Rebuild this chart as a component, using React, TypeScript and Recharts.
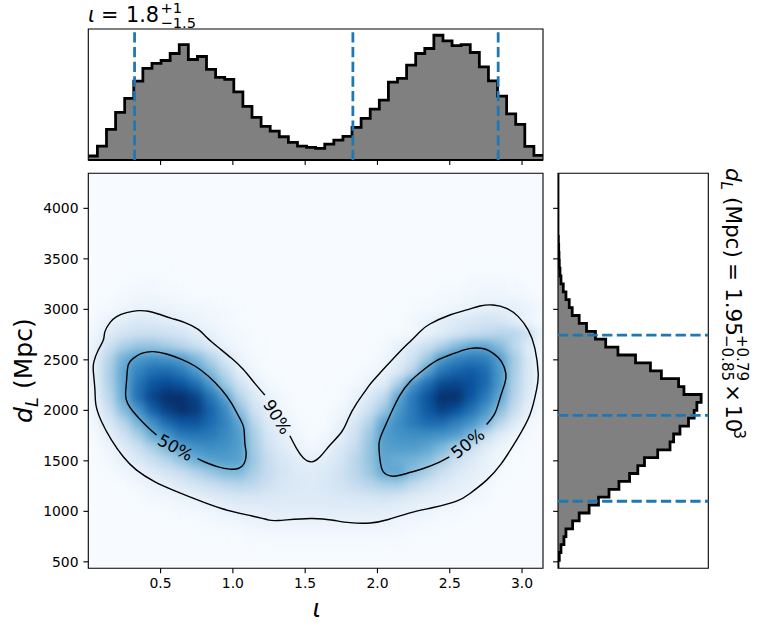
import React from 'react';
import { ComposedChart, Area, Line, Scatter, XAxis, YAxis, ReferenceLine, ReferenceArea, ReferenceDot } from 'recharts';

// ---- data ----
const iotaTicks = [0.5, 1.0, 1.5, 2.0, 2.5, 3.0];
const distanceTicks = [500, 1000, 1500, 2000, 2500, 3000, 3500, 4000];
const iotaDomain: [number, number] = [0, 3.145];
const distanceDomain: [number, number] = [436, 4347];

const iotaCounts = [4, 14, 30.7, 47.7, 61.7, 79, 91.7, 96.7, 99.7, 106.7, 115.7, 100.7, 103.7, 90.7, 82.7, 80.7, 68.3, 53.7, 42.7, 33.7, 29, 23.3, 17.7, 14, 12.7, 11.7, 16, 20, 23.7, 32.7, 41.7, 51, 60, 78, 81.7, 95, 106.7, 111.7, 125, 119.3, 114.7, 115.7, 107.7, 93.3, 79.3, 64, 46.3, 35.7, 13.7, 4.7];
const distanceCounts = [0, 1.3, 3, 6, 8, 14.7, 21.3, 31.3, 40.7, 51.3, 61.3, 72, 80.3, 87, 100.3, 112.7, 116.3, 122.7, 131.3, 137, 139.7, 144, 126.7, 121.3, 104, 93, 78, 60.3, 48, 37.7, 28.7, 21.3, 14.3, 11.3, 8, 5.3, 3, 2, 1.3, 1, 0.7, 0.4, 0, 0, 0, 0, 0, 0, 0, 0];
const iotaQuantiles = [0.32, 1.83, 2.835];
const distanceQuantiles = [2745, 1950, 1100];

const heatIota = [0.05, 0.15, 0.25, 0.35, 0.45, 0.55, 0.65, 0.75, 0.85, 0.95, 1.05, 1.15, 1.25, 1.35, 1.45, 1.55, 1.65, 1.75, 1.85, 1.95, 2.05, 2.15, 2.25, 2.35, 2.45, 2.55, 2.65, 2.75, 2.85, 2.95, 3.05, 3.15];
const heatDistance = [3375, 3250, 3125, 3000, 2875, 2750, 2625, 2500, 2375, 2250, 2125, 2000, 1875, 1750, 1625, 1500, 1375, 1250, 1125, 1000, 875, 750, 625];
const heatGrid = [
  [0,0,0,1,1,1,0,0,0,0,0,0,0,0,0,0,0,0,0,0,0,0,0,0,0,0,1,1,1,0,0,0],
  [0,0,1,2,2,1,1,0,0,0,0,0,0,0,0,0,0,0,0,0,0,0,0,0,1,1,2,3,3,2,1,0],
  [0,1,3,4,4,3,2,1,1,0,0,0,0,0,0,0,0,0,0,0,0,0,1,1,2,3,4,5,5,4,2,1],
  [1,2,4,6,7,6,5,4,3,2,1,0,0,0,0,0,0,0,0,0,0,0,1,2,3,5,7,9,10,9,7,3],
  [2,7,11,14,13,11,9,6,4,2,1,0,0,0,0,0,0,0,0,0,0,1,3,7,10,13,16,18,17,11,5,2],
  [5,12,18,22,23,20,17,12,8,4,2,1,0,0,0,0,0,0,0,0,1,1,3,8,12,17,22,26,30,29,20,8],
  [8,22,33,40,40,36,30,23,14,7,3,1,0,0,0,0,0,0,0,0,2,8,14,22,32,44,53,54,44,28,12,4],
  [10,30,50,60,64,62,58,46,32,16,6,2,0,0,0,0,0,0,0,1,4,10,20,38,60,68,72,70,58,36,14,4],
  [10,33,54,68,76,78,72,60,44,28,11,4,1,0,0,0,0,0,1,3,6,14,30,57,74,80,84,78,60,34,14,5],
  [9,32,53,74,86,90,86,76,60,38,20,9,3,0,0,0,0,1,2,7,12,34,62,76,90,92,88,78,60,32,14,5],
  [8,28,52,76,92,102,106,92,74,56,30,14,7,2,0,0,0,1,6,14,26,54,72,86,106,102,86,72,54,30,12,4],
  [6,22,44,62,82,94,100,96,80,66,42,20,10,4,1,0,1,3,10,20,38,60,72,84,94,88,76,62,44,24,9,3],
  [4,14,30,48,64,78,86,86,78,68,54,28,13,7,2,0,1,7,16,30,54,64,72,78,78,70,62,50,30,14,4,1],
  [2,9,20,34,52,62,72,74,72,66,58,34,16,9,4,1,3,10,20,38,58,62,64,64,62,58,46,26,12,6,2,0],
  [1,5,12,22,34,46,56,62,64,62,58,36,20,12,7,3,7,14,24,40,56,58,58,54,46,34,22,12,6,2,0,0],
  [0,3,8,14,22,30,40,50,56,58,56,38,24,16,11,9,11,17,28,40,54,50,48,44,34,22,14,8,3,1,0,0],
  [0,1,4,7,12,17,23,30,38,44,44,34,24,17,13,12,14,20,28,38,52,54,42,32,22,14,10,7,2,0,0,0],
  [0,0,1,3,6,9,13,17,22,26,29,27,21,16,14,13,15,19,24,29,33,34,26,18,13,10,8,4,1,0,0,0],
  [0,0,0,1,3,4,6,8,11,14,15,15,14,13,13,13,13,14,15,16,17,15,12,10,8,7,4,2,0,0,0,0],
  [0,0,0,0,0,1,2,3,5,7,9,10,11,11,11,11,11,11,11,11,10,9,8,6,4,3,1,0,0,0,0,0],
  [0,0,0,0,0,0,0,1,2,3,4,5,6,6,6,6,6,6,6,6,6,4,3,2,1,0,0,0,0,0,0,0],
  [0,0,0,0,0,0,0,0,0,0,1,2,2,2,2,2,2,2,2,2,2,2,1,0,0,0,0,0,0,0,0,0],
  [0,0,0,0,0,0,0,0,0,0,0,0,1,1,1,1,1,1,1,1,0,0,0,0,0,0,0,0,0,0,0,0],
];

const contourLeft50 = [[0.472,1755],[0.392,1860],[0.311,1986],[0.272,2069],[0.258,2151],[0.265,2300],[0.276,2449],[0.311,2515],[0.369,2564],[0.449,2581],[0.541,2558],[0.645,2505],[0.737,2439],[0.829,2340],[0.921,2207],[0.991,2069],[1.048,1920],[1.076,1821],[1.083,1672],[1.092,1573],[1.078,1474],[1.037,1424],[0.979,1418],[0.898,1441],[0.818,1481],[0.756,1523]];
const contourRight50 = [[2.755,1860],[2.812,1970],[2.847,2118],[2.881,2267],[2.888,2366],[2.858,2482],[2.801,2564],[2.743,2607],[2.674,2617],[2.594,2597],[2.501,2548],[2.409,2492],[2.317,2399],[2.225,2283],[2.156,2151],[2.098,1986],[2.041,1804],[2.011,1672],[2.018,1507],[2.041,1391],[2.11,1348],[2.202,1375],[2.317,1424],[2.409,1474],[2.497,1540]];
const contourOuter90 = [[1.221,2151],[1.152,2267],[1.071,2406],[0.991,2515],[0.898,2624],[0.818,2723],[0.76,2802],[0.668,2868],[0.576,2911],[0.484,2954],[0.415,2981],[0.346,2987],[0.265,2967],[0.196,2928],[0.15,2868],[0.115,2779],[0.104,2696],[0.069,2597],[0.039,2482],[0.035,2383],[0.046,2201],[0.053,2052],[0.092,1887],[0.161,1705],[0.242,1540],[0.334,1408],[0.461,1292],[0.599,1203],[0.76,1110],[0.921,1028],[1.106,962],[1.235,919],[1.314,909],[1.534,929],[1.695,912],[1.81,888],[1.95,885],[2.075,919],[2.225,985],[2.386,1038],[2.547,1101],[2.64,1177],[2.755,1309],[2.858,1474],[2.962,1705],[3.054,1953],[3.1,2201],[3.112,2366],[3.089,2614],[3.043,2795],[2.974,2928],[2.893,3010],[2.801,3043],[2.709,3033],[2.617,2994],[2.501,2944],[2.363,2855],[2.294,2779],[2.225,2680],[2.133,2548],[1.983,2316],[1.937,2234],[1.856,2069],[1.799,1920],[1.753,1788],[1.672,1656],[1.603,1540],[1.543,1490],[1.486,1530],[1.44,1623],[1.394,1748]];
const contourLabels = [
  { text: '50%', iota: 0.603, distance: 1633, angle: 29 },
  { text: '50%', iota: 2.624, distance: 1672, angle: -38 },
  { text: '90%', iota: 1.308, distance: 1936, angle: 58 },
];

// ---- layout and style ----
const W = 757, H = 631;
const L = 88.3, R = 543, T = 173.3, B = 568.3;
const topT = 29, topB = 160;
const sideL = 558, sideR = 708.3;
const FONT = '"DejaVu Sans", sans-serif';
const BLUE = '#1f77b4';
const DASH = '10.3 4.4';
const TICK = { fontSize: 13.9, fontFamily: FONT, fill: '#000' };
const AXIS = { stroke: '#000', strokeWidth: 1.1 };

const blues = ['#f7fbff', '#deebf7', '#c6dbef', '#9ecae1', '#6baed6', '#4292c6', '#2171b5', '#08519c', '#08306b'];
function blueOf(v: number) {
  const t = Math.max(0, Math.min(0.9999, v / 100)) * 8;
  const i = Math.floor(t), f = t - i;
  const a = parseInt(blues[i].slice(1), 16), b = parseInt(blues[i + 1].slice(1), 16);
  const ch = (s: number) => Math.round(((a >> s) & 255) * (1 - f) + ((b >> s) & 255) * f);
  return `rgb(${ch(16)},${ch(8)},${ch(0)})`;
}

const heatCells = heatGrid.flatMap((row, r) =>
  row.map((v, c) => ({ iota: heatIota[c], distance: heatDistance[r], v })).filter((d) => d.v > 0));
const cellW = 0.1 * (R - L) / (iotaDomain[1] - iotaDomain[0]);
const cellH = 125 * (B - T) / (distanceDomain[1] - distanceDomain[0]);

function HeatCell(props: any) {
  const { cx, cy, payload } = props;
  return <rect x={cx - cellW / 2 - 0.5} y={cy - cellH / 2 - 0.5} width={cellW + 1} height={cellH + 1} fill={blueOf(payload.v)} />;
}

const iotaHist = [
  ...iotaCounts.map((count, i) => ({ iota: (i * iotaDomain[1]) / iotaCounts.length, count })),
  { iota: iotaDomain[1], count: iotaCounts[iotaCounts.length - 1] },
];
const distanceSpan = distanceDomain[1] - distanceDomain[0];
const distanceHist = [
  ...distanceCounts.map((count, i) => ({ distance: distanceDomain[0] + (i * distanceSpan) / distanceCounts.length, count })),
  { distance: distanceDomain[1], count: 0 },
];
const asPoints = (c: number[][]) => c.map(([iota, distance]) => ({ iota, distance }));
const contours = [contourLeft50, contourRight50, contourOuter90].map(asPoints);

const layer: React.CSSProperties = { position: 'absolute', left: 0, top: 0 };
const noText = () => '';

function TopHist() {
  const domain: [number, number] = [0, 131.25];
  return (
    <div style={layer}>
      <ComposedChart width={W} height={H} data={iotaHist} margin={{ left: L, right: W - R, top: topT, bottom: H - topB - 1 }}>
        <XAxis dataKey="iota" type="number" domain={iotaDomain} ticks={iotaTicks} height={1} tickSize={4.9} tickFormatter={noText} axisLine={false} tickLine={AXIS} allowDataOverflow />
        <YAxis type="number" domain={domain} width={0} hide allowDataOverflow />
        <Area dataKey="count" type="stepAfter" stroke="#000" strokeWidth={2.78} fill="#808080" fillOpacity={1} dot={false} activeDot={false} isAnimationActive={false} />
        <ReferenceLine y={0} stroke="#000" strokeWidth={2.2} />
        {iotaQuantiles.map((q) => (
          <ReferenceLine key={q} segment={[{ x: q, y: 128 }, { x: q, y: 0 }]} stroke={BLUE} strokeWidth={2.78} strokeDasharray={DASH} />
        ))}
        <ReferenceArea x1={iotaDomain[0]} x2={iotaDomain[1]} y1={domain[0]} y2={domain[1]} fill="none" stroke="#000" strokeWidth={1.1} />
      </ComposedChart>
    </div>
  );
}

function SideHist() {
  const domain: [number, number] = [0, 151.2];
  return (
    <div style={layer}>
      <ComposedChart layout="vertical" width={W} height={H} data={distanceHist} margin={{ left: sideL - 1, right: W - sideR, top: T, bottom: H - B }}>
        <XAxis type="number" domain={domain} height={0} hide allowDataOverflow />
        <YAxis dataKey="distance" type="number" reversed domain={distanceDomain} ticks={distanceTicks} width={1} tickSize={4.9} tickFormatter={noText} axisLine={false} tickLine={AXIS} allowDataOverflow />
        <Area dataKey="count" type="stepBefore" stroke="#000" strokeWidth={2.78} fill="#808080" fillOpacity={1} dot={false} activeDot={false} isAnimationActive={false} />
        {distanceQuantiles.map((q) => (
          <ReferenceLine key={q} segment={[{ x: 0, y: q }, { x: domain[1], y: q }]} stroke={BLUE} strokeWidth={2.78} strokeDasharray={DASH} />
        ))}
        <ReferenceArea x1={domain[0]} x2={domain[1]} y1={distanceDomain[0]} y2={distanceDomain[1]} fill="none" stroke="#000" strokeWidth={1.1} />
      </ComposedChart>
    </div>
  );
}

function HeatLayer() {
  const w = R - L, h = B - T;
  return (
    <div style={{ position: 'absolute', left: L, top: T, width: w, height: h, overflow: 'hidden', background: blues[0] }}>
      <div style={{ filter: 'blur(5px)', width: w, height: h }}>
        <ComposedChart width={w} height={h} margin={{ left: 0, right: 0, top: 0, bottom: 0 }}>
          <XAxis dataKey="iota" type="number" domain={iotaDomain} hide height={0} allowDataOverflow />
          <YAxis dataKey="distance" type="number" domain={distanceDomain} hide width={0} allowDataOverflow />
          <Scatter data={heatCells} dataKey="distance" shape={HeatCell} isAnimationActive={false} />
        </ComposedChart>
      </div>
    </div>
  );
}

function MainOverlay() {
  return (
    <div style={layer}>
      <ComposedChart width={W} height={H} margin={{ left: L - 1, right: W - R, top: T, bottom: H - B - 1 }}>
        <XAxis dataKey="iota" type="number" domain={iotaDomain} ticks={iotaTicks} height={1} tickSize={4.9} tickMargin={4.5} tick={TICK} tickFormatter={(v: number) => v.toFixed(1)} axisLine={false} tickLine={AXIS} allowDataOverflow />
        <YAxis dataKey="distance" type="number" domain={distanceDomain} ticks={distanceTicks} width={1} tickSize={4.9} tickMargin={4.9} tick={TICK} axisLine={false} tickLine={AXIS} allowDataOverflow />
        {contours.map((c, i) => (
          <Line key={i} data={c} dataKey="distance" type="natural" stroke="#000" strokeWidth={1.39} dot={false} activeDot={false} isAnimationActive={false} />
        ))}
        {contourLabels.map((l) => (
          <ReferenceDot key={l.iota} x={l.iota} y={l.distance} r={0}
            shape={(p: any) => (
              <text x={p.cx} y={p.cy} transform={`rotate(${l.angle} ${p.cx} ${p.cy})`} textAnchor="middle" dominantBaseline="central" fontSize={16.7} fontFamily={FONT} fill="#000">{l.text}</text>
            )} />
        ))}
        <ReferenceArea x1={iotaDomain[0]} x2={iotaDomain[1]} y1={distanceDomain[0]} y2={distanceDomain[1]} fill="none" stroke="#000" strokeWidth={1.1} />
      </ComposedChart>
    </div>
  );
}

function Texts() {
  const t = (x: number, y: number, s: string, size: number, rot = 0, italic = false) => (
    <text transform={`translate(${x} ${y}) rotate(${rot})`} fontSize={size} fontFamily={FONT} fontStyle={italic ? 'italic' : 'normal'} fill="#000">{s}</text>
  );
  return (
    <svg width={W} height={H} style={layer}>
      {t(88, 21.7, 'ι', 20.8, 0, true)}
      {t(101, 21.7, '=', 20.8)}
      {t(126, 21.7, '1.8', 20.8)}
      {t(160.5, 13, '+1', 14.6)}
      {t(160.5, 28.3, '−1.5', 14.6)}
      {t(312.5, 617, 'ι', 25, 0, true)}
      {t(32, 423, 'd', 25, -90, true)}
      {t(38, 407, 'L', 17.5, -90, true)}
      {t(32, 389, '(Mpc)', 25, -90)}
      {t(725.7, 168, 'd', 21.5, 90, true)}
      {t(721, 181.5, 'L', 15, 90, true)}
      {t(725.7, 197, '(Mpc)', 21.5, 90)}
      {t(725.7, 263, '=', 21.5, 90)}
      {t(725.7, 288, '1.95', 21.5, 90)}
      {t(736.7, 335, '+0.79', 15, 90)}
      {t(721.7, 335, '−0.85', 15, 90)}
      {t(725.7, 384, '×', 21.5, 90)}
      {t(725.7, 405, '10', 21.5, 90)}
      {t(734, 429.5, '3', 15, 90)}
    </svg>
  );
}

export default function App() {
  return (
    <div style={{ position: 'absolute', left: 0, top: 0, width: W, height: H, background: '#fff', overflow: 'hidden' }}>
      <TopHist />
      <SideHist />
      <HeatLayer />
      <MainOverlay />
      <Texts />
    </div>
  );
}
